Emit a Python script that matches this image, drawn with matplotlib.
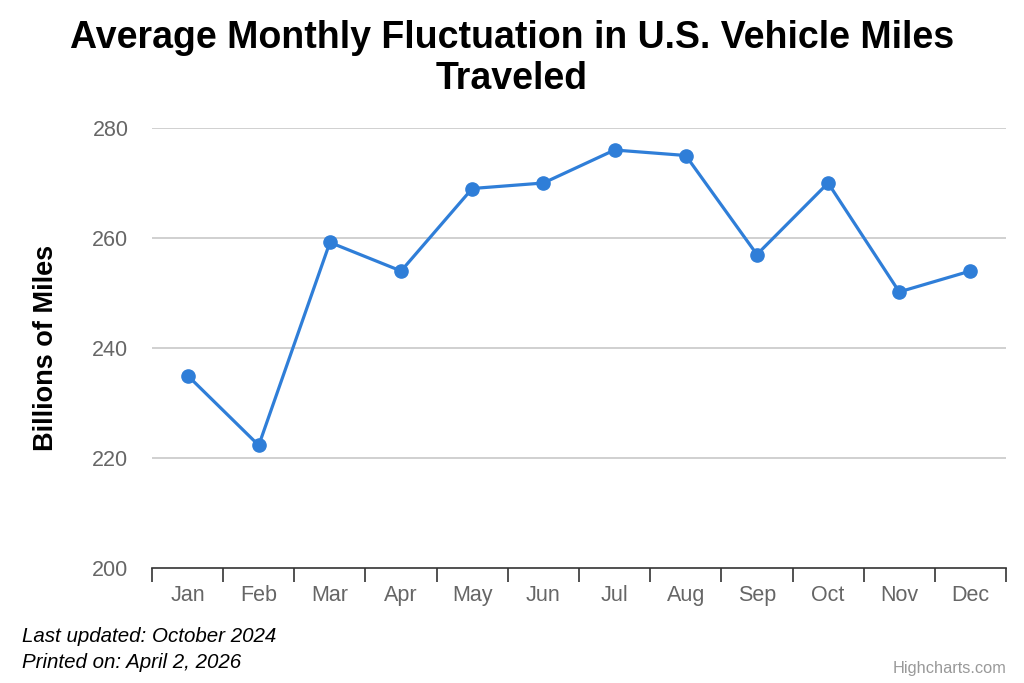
import numpy as np
import matplotlib.pyplot as plt

plt.rcParams['font.family'] = ['Liberation Sans', 'DejaVu Sans']

months = ["Jan", "Feb", "Mar", "Apr", "May", "Jun", "Jul", "Aug", "Sep", "Oct", "Nov", "Dec"]
miles = [235, 222.3, 259.2, 254, 269, 270, 276, 275, 257, 270, 250.2, 254]
y_ticks = [200, 220, 240, 260, 280]

lineColor = "#2f7ed8"

fig = plt.figure(figsize=(10.24, 6.83), dpi=100)
ax = fig.add_axes([152 / 1024, 115 / 683, 854 / 1024, 440 / 683])

x = np.arange(len(months))
ax.plot(x, miles, color=lineColor, linewidth=2.3, marker='o', markersize=9.5, zorder=3)

ax.set_xlim(-0.5, len(months) - 0.5)
ax.set_ylim(y_ticks[0], y_ticks[-1])
ax.set_yticks(y_ticks)
ax.set_xticks(x)
ax.set_xticklabels(months)
ax.set_xticks(np.arange(-0.5, len(months)), minor=True)

for v in y_ticks[1:]:
    ax.axhline(v, color="#c8c8c8", linewidth=1.2, zorder=1)

for s in ["top", "right", "left"]:
    ax.spines[s].set_visible(False)
ax.spines["bottom"].set_color("#333333")
ax.spines["bottom"].set_linewidth(1.2)

ax.tick_params(axis='x', which='major', length=0, pad=12, labelsize=15.5, labelcolor="#666666")
ax.tick_params(axis='x', which='minor', length=10, width=1.2, color="#333333", direction='out')
ax.tick_params(axis='y', length=0, pad=17, labelsize=15.5, labelcolor="#666666")

ax.set_ylabel("Billions of Miles", fontsize=19.5, fontweight='bold', labelpad=24)

fig.text(0.5, 0.97, "Average Monthly Fluctuation in U.S. Vehicle Miles\nTraveled",
         ha='center', va='top', fontsize=27, fontweight='bold', linespacing=1.15)

fig.text(22 / 1024, 1 - 636 / 683, "Last updated: October 2024", ha='left', va='center',
         fontsize=14.8, style='italic')
fig.text(22 / 1024, 1 - 663 / 683, "Printed on: April 2, 2026", ha='left', va='center',
         fontsize=14.8, style='italic')
fig.text(1006 / 1024, 1 - 668 / 683, "Highcharts.com", ha='right', va='center',
         fontsize=11.8, color="#999999")

fig.savefig("out.png", dpi=100)
